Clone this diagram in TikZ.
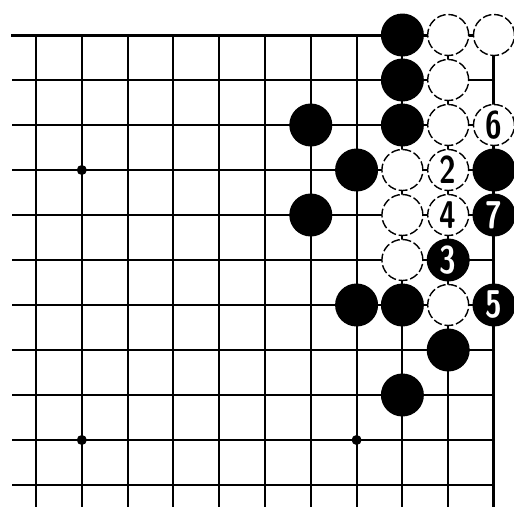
\documentclass[tikz,border=0pt]{standalone}
\newcommand\mv[1]{\scalebox{0.78}[1]{#1}}
\begin{document}
\begin{tikzpicture}[x=0.916cm,y=-0.9cm,
  bstone/.style={circle,fill=black,inner sep=0pt,minimum size=0.86cm,text=white,font=\fontsize{22}{22}\sffamily\bfseries},
  wstone/.style={circle,fill=white,draw=black,line width=0.8pt,dash pattern=on 5pt off 1.6pt,inner sep=0pt,minimum size=0.82cm,font=\fontsize{22}{22}\sffamily\bfseries}]
\useasboundingbox (-0.786,-0.778) rectangle (10.437,10.489);
\foreach \r in {1,...,10}
  \draw[line width=1.1pt] (-0.52,\r) -- (10,\r);
\foreach \c in {0,...,9}
  \draw[line width=1.1pt] (\c,0) -- (\c,10.489);
\draw[line width=1.7pt,line cap=rect] (-0.52,0) -- (10,0) -- (10,10.489);
\foreach \c/\r in {1/3,1/9,7/9,7/3}
  \fill (\c,\r) circle (0.1cm);

% black stones
\node[bstone] (b1) at (8,0) {};
\node[bstone] (b2) at (8,1) {};
\node[bstone] (b3) at (8,2) {};
\node[bstone] (b4) at (6,2) {};
\node[bstone] (b5) at (7,3) {};
\node[bstone] (b6) at (6,4) {};
\node[bstone] (b7) at (10,3) {};
\node[bstone] (b8) at (7,6) {};
\node[bstone] (b9) at (8,6) {};
\node[bstone] (b10) at (9,7) {};
\node[bstone] (b11) at (8,8) {};
\node[bstone] (m3) at (9,5) {\mv{3}};
\node[bstone] (m5) at (10,6) {\mv{5}};
\node[bstone] (m7) at (10,4) {\mv{7}};

% white stones
\node[wstone] (w1) at (9,0) {};
\node[wstone] (w2) at (10,0) {};
\node[wstone] (w3) at (9,1) {};
\node[wstone] (w4) at (9,2) {};
\node[wstone] (w5) at (8,3) {};
\node[wstone] (w6) at (8,4) {};
\node[wstone] (w7) at (8,5) {};
\node[wstone] (w8) at (9,6) {};
\node[wstone] (m2) at (9,3) {\mv{2}};
\node[wstone] (m4) at (9,4) {\mv{4}};
\node[wstone] (m6) at (10,2) {\mv{6}};
\end{tikzpicture}
\end{document}
